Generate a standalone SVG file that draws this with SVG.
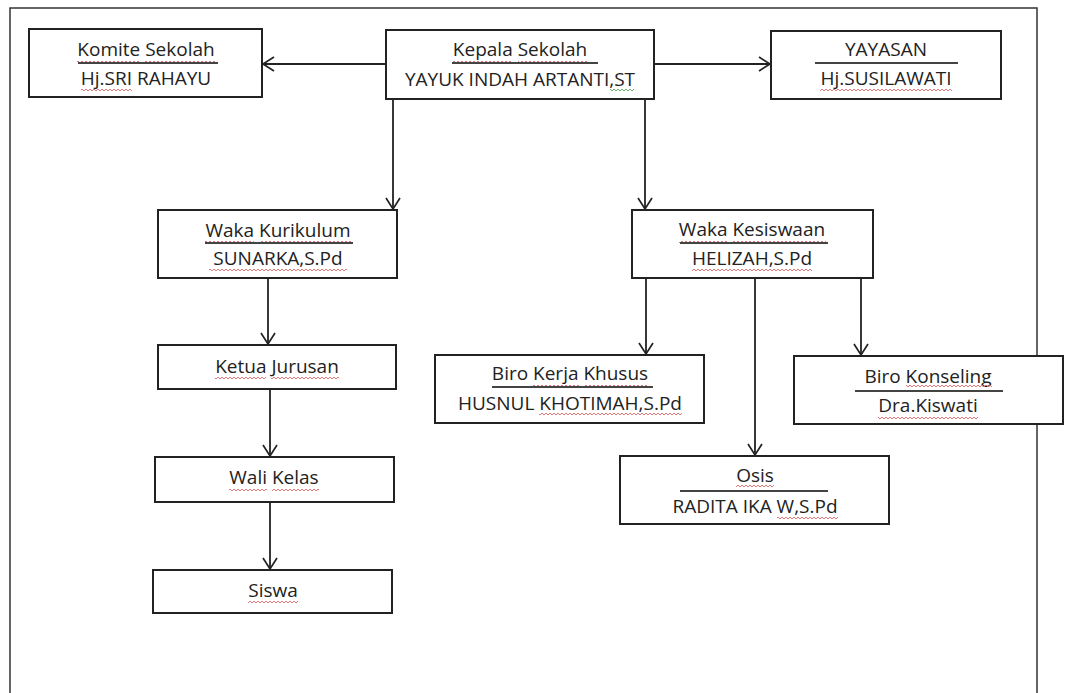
<svg xmlns="http://www.w3.org/2000/svg" width="1072" height="693" viewBox="0 0 1072 693">
<style>
.box{fill:#fff;stroke:#222;stroke-width:2}
.frame{fill:#fff;stroke:#333;stroke-width:1.5}
.sep{stroke:#444;stroke-width:2}
.conn{stroke:#222;stroke-width:1.8;fill:none;marker-end:url(#arr)}
.sp{fill:url(#wavy)}
.gr{fill:url(#wavyg)}
text{font-family:"Open Sans",Lato,"Liberation Sans",sans-serif;font-size:19px;fill:#222;text-anchor:middle}
</style>
<defs>
<marker id="arr" markerUnits="userSpaceOnUse" markerWidth="14" markerHeight="16" refX="12" refY="8" orient="auto">
<path d="M1,1 L12,8 L1,15" fill="none" stroke="#222" stroke-width="1.7"/>
</marker>
<pattern id="wavy" patternUnits="userSpaceOnUse" x="0" y="0" width="4" height="4">
<path d="M0,3 L2,1 L4,3" fill="none" stroke="#e06a6a" stroke-width="0.9"/>
</pattern>
<pattern id="wavyg" patternUnits="userSpaceOnUse" x="0" y="0" width="4" height="4">
<path d="M0,3 L2,1 L4,3" fill="none" stroke="#5aa85a" stroke-width="0.9"/>
</pattern>
</defs>
<rect width="1072" height="693" fill="#fff"/>
<rect class="frame" x="10" y="8" width="1027" height="700"/>
<g id="connectors">
<line class="conn" x1="386" y1="64" x2="263" y2="64"/>
<line class="conn" x1="654" y1="64" x2="770" y2="64"/>
<line class="conn" x1="393" y1="99" x2="393" y2="209"/>
<line class="conn" x1="645" y1="99" x2="645" y2="209"/>
<line class="conn" x1="268" y1="278" x2="268" y2="344"/>
<line class="conn" x1="270" y1="389" x2="270" y2="456"/>
<line class="conn" x1="270" y1="502" x2="270" y2="569"/>
<line class="conn" x1="646" y1="278" x2="646" y2="354"/>
<line class="conn" x1="755" y1="278" x2="755" y2="455"/>
<line class="conn" x1="861" y1="278" x2="861" y2="355"/>
</g>
<g id="komite">
<rect class="box" x="29" y="29" width="233" height="68"/>
<text x="146" y="56">Komite Sekolah</text>
<rect class="sp" x="77" y="60" width="63" height="4"/>
<rect class="sp" x="145" y="60" width="70" height="4"/>
<line class="sep" x1="78" y1="63" x2="218" y2="63"/>
<text x="146" y="85">Hj.SRI RAHAYU</text>
<rect class="sp" x="81" y="88" width="51" height="4"/>
</g>
<g id="kepala">
<rect class="box" x="386" y="30" width="268" height="69"/>
<text x="520" y="56">Kepala Sekolah</text>
<rect class="sp" x="453" y="60" width="60" height="4"/>
<rect class="sp" x="518" y="60" width="70" height="4"/>
<line class="sep" x1="452" y1="63" x2="598" y2="63"/>
<text x="520" y="86">YAYUK INDAH ARTANTI,ST</text>
<rect class="gr" x="610" y="88" width="24" height="4"/>
</g>
<g id="yayasan">
<rect class="box" x="771" y="31" width="230" height="68"/>
<text x="886" y="56">YAYASAN</text>
<line class="sep" x1="815" y1="63" x2="958" y2="63"/>
<text x="886" y="85">Hj.SUSILAWATI</text>
<rect class="sp" x="820" y="88" width="132" height="4"/>
</g>
<g id="waka-kurikulum">
<rect class="box" x="158" y="210" width="239" height="68"/>
<text x="278" y="237">Waka Kurikulum</text>
<rect class="sp" x="205" y="240" width="49" height="4"/>
<rect class="sp" x="259" y="240" width="92" height="4"/>
<line class="sep" x1="205" y1="243" x2="353" y2="243"/>
<text x="278" y="265">SUNARKA,S.Pd</text>
<rect class="sp" x="209" y="268" width="138" height="4"/>
</g>
<g id="ketua-jurusan">
<rect class="box" x="158" y="345" width="238" height="44"/>
<text x="277" y="373">Ketua Jurusan</text>
<rect class="sp" x="215" y="376" width="51" height="4"/>
<rect class="sp" x="271" y="376" width="68" height="4"/>
</g>
<g id="wali-kelas">
<rect class="box" x="155" y="457" width="239" height="45"/>
<text x="274" y="484">Wali Kelas</text>
<rect class="sp" x="229" y="488" width="38" height="4"/>
<rect class="sp" x="272" y="488" width="47" height="4"/>
</g>
<g id="siswa">
<rect class="box" x="153" y="570" width="239" height="43"/>
<text x="273" y="597">Siswa</text>
<rect class="sp" x="248" y="600" width="50" height="4"/>
</g>
<g id="waka-kesiswaan">
<rect class="box" x="632" y="210" width="241" height="68"/>
<text x="752" y="236">Waka Kesiswaan</text>
<rect class="sp" x="679" y="240" width="49" height="4"/>
<rect class="sp" x="733" y="240" width="93" height="4"/>
<line class="sep" x1="680" y1="243" x2="828" y2="243"/>
<text x="752" y="265">HELIZAH,S.Pd</text>
<rect class="sp" x="692" y="268" width="120" height="4"/>
</g>
<g id="biro-kerja-khusus">
<rect class="box" x="435" y="355" width="269" height="68"/>
<text x="570" y="380">Biro Kerja Khusus</text>
<rect class="sp" x="533" y="384" width="46" height="4"/>
<rect class="sp" x="584" y="384" width="64" height="4"/>
<line class="sep" x1="492" y1="387" x2="653" y2="387"/>
<text x="570" y="410">HUSNUL KHOTIMAH,S.Pd</text>
<rect class="sp" x="539" y="412" width="143" height="4"/>
</g>
<g id="biro-konseling">
<rect class="box" x="794" y="356" width="269" height="68"/>
<text x="928" y="383">Biro Konseling</text>
<rect class="sp" x="906" y="384" width="86" height="4"/>
<line class="sep" x1="855" y1="391" x2="1003" y2="391"/>
<text x="928" y="412">Dra.Kiswati</text>
<rect class="sp" x="878" y="416" width="100" height="4"/>
</g>
<g id="osis">
<rect class="box" x="620" y="456" width="269" height="68"/>
<text x="755" y="482">Osis</text>
<rect class="sp" x="736" y="484" width="38" height="4"/>
<line class="sep" x1="680" y1="491" x2="828" y2="491"/>
<text x="755" y="513">RADITA IKA W,S.Pd</text>
<rect class="sp" x="777" y="516" width="61" height="4"/>
</g>
</svg>
